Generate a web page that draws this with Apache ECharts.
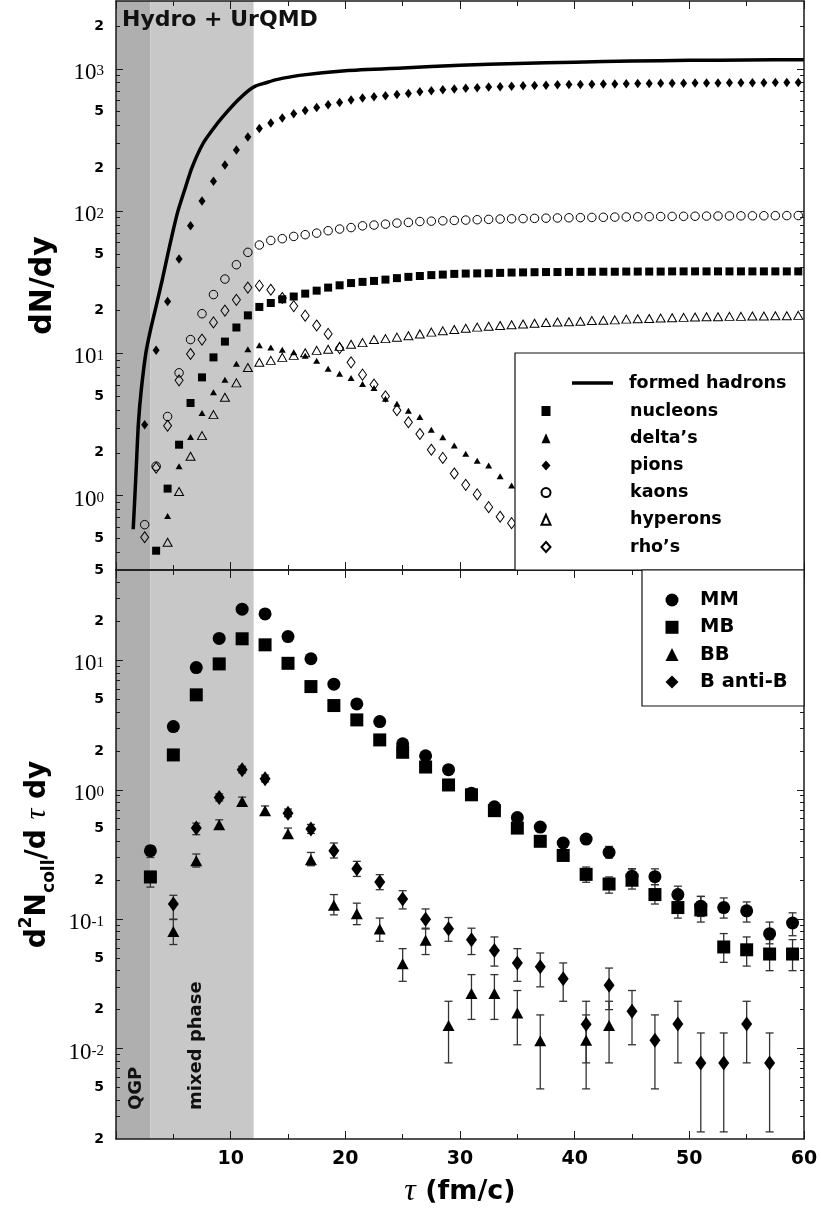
<!DOCTYPE html>
<html><head><meta charset="utf-8">
<script src="https://cdn.jsdelivr.net/npm/echarts@6/dist/echarts.min.js"></script>
<style>html,body{margin:0;padding:0;background:#fff}#c{width:821px;height:1215px}</style>
</head><body><div id="c"></div>
<script>
// ---------- top panel: dN/dy vs tau ----------
const tauTop = [2.5,3.5,4.5,5.5,6.5,7.5,8.5,9.5,10.5,11.5,12.5,13.5,14.5,15.5,16.5,17.5,18.5,19.5,20.5,21.5,22.5,23.5,24.5,25.5,26.5,27.5,28.5,29.5,30.5,31.5,32.5,33.5,34.5,35.5,36.5,37.5,38.5,39.5,40.5,41.5,42.5,43.5,44.5,45.5,46.5,47.5,48.5,49.5,50.5,51.5,52.5,53.5,54.5,55.5,56.5,57.5,58.5,59.5];
const tauLine = [1.5,1.65,1.8,1.95,2.2,2.6,3.0,3.5,4.0,4.5,5.0,5.4,6.0,6.6,7.6,8.7,9.7,10.6,11.6,12.2,13,14,16,20,25,30,35,40,45,50,55,60];
const formedHadrons = [0.58,1.0,1.8,3.2,5.5,10,14.5,21.5,32,49,74,100,142,200,300,400,500,600,710,760,795,840,900,970,1015,1060,1090,1115,1135,1148,1155,1160];
const nucleons = [null,0.41,1.12,2.28,4.48,6.78,9.37,12.1,15.2,18.5,21.2,22.6,24.0,25.1,26.3,27.6,29.0,30.1,31.2,31.8,32.3,33.0,33.8,34.5,35.0,35.5,35.8,36.2,36.4,36.5,36.6,36.8,37.0,37.1,37.2,37.3,37.3,37.4,37.4,37.5,37.5,37.5,37.6,37.6,37.6,37.6,37.7,37.7,37.7,37.7,37.7,37.7,37.7,37.7,37.7,37.7,37.7,37.7];
const deltas = [null,null,0.72,1.61,2.58,3.81,5.33,6.53,8.47,10.7,11.4,11.0,10.6,10.2,9.64,8.89,7.8,7.2,6.7,6.1,5.7,4.8,4.43,3.95,3.57,2.91,2.57,2.25,1.97,1.76,1.63,1.37,1.18];
const pions = [3.15,10.5,23.2,46,79,118,162,211,269,332,381,416,451,483,510,535,560,580,605,625,636,647,661,670,690,702,713,722,730,738,745,749,754,760,764,768,772,775,778,780,782,784,786,788,789,791,792,793,795,796,797,798,799,800,800,801,802,802];
const kaons = [0.625,1.61,3.6,7.3,12.5,19,25.9,33.3,42,51.3,57.8,62.2,64,66.4,68.3,70,72.8,74.8,76.6,78.8,79.8,81,82.4,83.3,84.5,85,85.5,86,86.5,87,87.5,88,88.3,88.6,88.9,89.2,89.5,89.8,90,90.3,90.5,90.8,91,91.2,91.4,91.6,91.8,92,92.1,92.3,92.4,92.5,92.6,92.7,92.8,92.9,93,93.1];
const hyperons = [null,null,0.47,1.07,1.89,2.64,3.71,4.91,6.2,7.95,8.65,8.93,9.37,9.68,10.1,10.5,10.7,11.2,11.6,11.9,12.5,12.7,13.0,13.3,13.7,14.1,14.4,14.7,15.0,15.3,15.5,15.7,15.9,16.1,16.3,16.5,16.6,16.7,16.8,17.0,17.1,17.2,17.4,17.5,17.6,17.7,17.8,17.9,18.0,18.1,18.1,18.2,18.2,18.3,18.3,18.4,18.4,18.5];
const rhos = [0.51,1.57,3.1,6.46,9.9,12.5,16.5,20,23.8,29,29.9,28.0,24.5,21.5,18.4,15.7,13.7,10.9,8.65,7.08,6.03,4.99,3.98,3.28,2.71,2.1,1.84,1.43,1.19,1.02,0.83,0.71,0.64];

// ---------- bottom panel: collision rates ----------
const tauBot = [3,5,7,9,11,13,15,17,19,21,23,25,27,29,31,33,35,37,39,41,43,45,47,49,51,53,55,57,59];
const mm   = [0.338,3.08,8.8,14.8,24.9,22.9,15.3,10.3,6.55,4.61,3.37,2.27,1.83,1.43,0.94,0.74,0.61,0.515,0.388,0.416,0.328,0.215,0.213,0.155,0.126,0.123,0.116,0.0773,0.0934];
const mmLo = [0.30,2.9,8.4,14.2,24,22,14.7,9.9,6.25,4.4,3.2,2.15,1.72,1.34,0.88,0.69,0.57,0.48,0.36,0.39,0.297,0.19,0.185,0.133,0.105,0.102,0.095,0.0645,0.0745];
const mmHi = [0.37,3.25,9.2,15.4,25.8,23.8,15.9,10.7,6.85,4.82,3.54,2.39,1.94,1.52,1.0,0.79,0.65,0.55,0.42,0.445,0.365,0.245,0.245,0.18,0.15,0.146,0.136,0.095,0.112];
const mb   = [0.212,1.86,5.42,9.4,14.7,13.2,9.5,6.28,4.48,3.47,2.43,1.95,1.5,1.09,0.915,0.69,0.506,0.4,0.311,0.222,0.187,0.2,0.155,0.123,0.118,0.061,0.058,0.0538,0.0538];
const mbLo = [0.177,1.75,5.15,9.0,14.2,12.7,9.1,6.0,4.25,3.3,2.3,1.84,1.41,1.02,0.855,0.64,0.47,0.37,0.285,0.193,0.159,0.171,0.131,0.102,0.095,0.0464,0.0434,0.04,0.04];
const mbHi = [0.234,1.97,5.7,9.8,15.2,13.7,9.9,6.55,4.7,3.65,2.56,2.06,1.59,1.16,0.975,0.74,0.545,0.43,0.34,0.253,0.212,0.245,0.185,0.15,0.15,0.0774,0.0729,0.0695,0.0695];
const bb   = [null,0.0805,0.283,0.537,0.812,0.69,0.457,0.288,0.128,0.11,0.084,0.0453,0.0686,0.0151,0.0266,0.0266,0.0188,0.0115,null,0.0116,0.0151];
const bbLo = [null,0.0637,0.253,0.497,0.75,0.64,0.423,0.259,0.108,0.0907,0.0675,0.0331,0.0533,0.00775,0.0168,0.0168,0.0107,0.00488,null,0.00488,0.00775];
const bbHi = [null,0.1,0.319,0.586,0.878,0.75,0.506,0.328,0.155,0.133,0.102,0.0592,0.0852,0.0232,0.0373,0.0373,0.0281,0.0182,null,0.0182,0.0232];
const bab   = [null,0.131,0.506,0.873,1.43,1.22,0.66,0.497,0.338,0.245,0.194,0.143,0.1,0.0845,0.0695,0.0574,0.0459,0.0428,0.0347,0.0154,0.0308,0.0194,0.0116,0.0155,0.00775,0.00775,0.0155,0.00775];
const babLo = [null,0.0994,0.45,0.82,1.35,1.15,0.62,0.46,0.297,0.214,0.169,0.12,0.084,0.0675,0.0533,0.0434,0.0331,0.030,0.0232,0.00775,0.020,0.0107,0.00488,0.00775,0.00227,0.00227,0.00775,0.00227];
const babHi = [null,0.153,0.553,0.93,1.52,1.3,0.71,0.54,0.388,0.28,0.221,0.166,0.12,0.103,0.0852,0.0729,0.0592,0.0548,0.0459,0.0232,0.0419,0.0281,0.0182,0.0232,0.0132,0.0132,0.0232,0.0132];

// ---------- tick values ----------
const xTickLabels = [10,20,30,40,50,60];
const topMajor = [1,10,100,1000];
const topMinor = [0.4,0.5,0.6,0.7,0.8,0.9,2,3,4,5,6,7,8,9,20,30,40,50,60,70,80,90,200,300,400,500,600,700,800,900,2000];
const topLabels = [0.5,1,2,5,10,20,50,100,200,500,1000,2000];
const botMajor = [0.01,0.1,1,10];
const botMinor = [0.003,0.004,0.005,0.006,0.007,0.008,0.009,0.02,0.03,0.04,0.05,0.06,0.07,0.08,0.09,0.2,0.3,0.4,0.5,0.6,0.7,0.8,0.9,2,3,4,5,6,7,8,9,20,30,40];
const botLabels = [0.002,0.005,0.01,0.02,0.05,0.1,0.2,0.5,1,2,5,10,20,50];

const TOP_MIN = 0.3, TOP_MAX = 3000, BOT_MIN = 0.002, BOT_MAX = 50;

function pair(xs, ys) { const o = []; ys.forEach((y, i) => { if (y != null) o.push([xs[i], y]); }); return o; }
function triple(xs, lo, hi) { const o = []; lo.forEach((l, i) => { if (l != null) o.push([xs[i], l, hi[i]]); }); return o; }
function inside(arr, lo, hi) { return arr.map(v => Math.min(Math.max(v, lo * (1 + 1e-9)), hi * (1 - 1e-9))); }

function fmtLog(v) {
  const e = Math.floor(Math.log10(v) + 1e-6);
  const m = Math.round(v / Math.pow(10, e));
  if (m === 1) return '{ten|10}{sup|' + e + '}';
  return '{d|' + m + '}';
}
const labelRich = {
  ten: { fontFamily: 'Liberation Serif', fontSize: 23, color: '#000', lineHeight: 26, padding: [8, 0, 0, 0] },
  sup: { fontFamily: 'Liberation Serif', fontSize: 15, color: '#000', lineHeight: 14, verticalAlign: 'top', padding: [8, 0, 0, 0] },
  d: { fontFamily: 'DejaVu Sans', fontWeight: 'bold', fontSize: 14, color: '#000' }
};
const AX = '#1a1a1a';

function yAxes(grid, min, max, major, minor, labels, name, nameStyle) {
  const base = { type: 'log', logBase: 10, gridIndex: grid, min: min, max: max, splitLine: { show: false }, z: 5 };
  return [
    Object.assign({}, base, {
      position: 'left',
      axisLine: { show: true, lineStyle: { color: AX, width: 1.5 } },
      axisTick: { show: true, inside: true, length: 7, lineStyle: { color: AX, width: 1 }, customValues: inside(major, min, max) },
      axisLabel: { show: true, margin: 12, customValues: inside(labels, min, max), formatter: fmtLog, rich: labelRich },
      name: name, nameLocation: 'middle', nameGap: 58, nameRotate: 90, nameTextStyle: nameStyle
    }),
    Object.assign({}, base, {
      position: 'left', axisLine: { show: false }, axisLabel: { show: false },
      axisTick: { show: true, inside: true, length: 4, lineStyle: { color: AX, width: 1 }, customValues: inside(minor, min, max) }
    }),
    Object.assign({}, base, {
      position: 'right', axisLine: { show: true, lineStyle: { color: AX, width: 1.5 } }, axisLabel: { show: false },
      axisTick: { show: true, inside: true, length: 7, lineStyle: { color: AX, width: 1 }, customValues: inside(major, min, max) }
    }),
    Object.assign({}, base, {
      position: 'right', axisLine: { show: false }, axisLabel: { show: false },
      axisTick: { show: true, inside: true, length: 4, lineStyle: { color: AX, width: 1 }, customValues: inside(minor, min, max) }
    })
  ];
}

function xAxis(grid, pos, labels, name) {
  const a = {
    type: 'value', gridIndex: grid, position: pos, min: 0, max: 60, interval: 10, z: 5,
    splitLine: { show: false }, minorSplitLine: { show: false },
    axisLine: { show: true, onZero: false, lineStyle: { color: AX, width: 1.5 } },
    axisTick: { show: true, inside: true, length: 8, lineStyle: { color: AX, width: 1 } },
    minorTick: { show: true, splitNumber: 2, length: 5, lineStyle: { color: AX, width: 1 } },
    axisLabel: { show: labels, margin: 11, fontFamily: 'DejaVu Sans', fontWeight: 'bold', fontSize: 19, color: '#000',
      formatter: v => (xTickLabels.indexOf(v) >= 0 ? String(v) : '') }
  };
  if (name) {
    a.name = '{tau|τ}{n| (fm/c)}';
    a.nameLocation = 'middle';
    a.nameGap = 37;
    a.nameTextStyle = { rich: {
      tau: { fontFamily: 'Liberation Serif', fontStyle: 'italic', fontSize: 32, color: '#000' },
      n: { fontFamily: 'DejaVu Sans', fontWeight: 'bold', fontSize: 27, color: '#000' } } };
  }
  return a;
}

function errRender(params, api) {
  const x = api.value(0), lo = api.value(1), hi = api.value(2);
  const a = api.coord([x, hi]), b = api.coord([x, lo]);
  const w = 4;
  const st = { stroke: '#333', lineWidth: 1.3, fill: null };
  return { type: 'group', children: [
    { type: 'line', shape: { x1: a[0], y1: a[1], x2: b[0], y2: b[1] }, style: st },
    { type: 'line', shape: { x1: a[0] - w, y1: a[1], x2: a[0] + w, y2: a[1] }, style: st },
    { type: 'line', shape: { x1: b[0] - w, y1: b[1], x2: b[0] + w, y2: b[1] }, style: st }
  ] };
}
function errSeries(name, xs, lo, hi) {
  return { type: 'custom', name: name, xAxisIndex: 2, yAxisIndex: 4, z: 2, silent: true,
    renderItem: errRender, encode: { x: 0, y: [1, 2] }, data: triple(xs, lo, hi) };
}

const shade = {
  silent: true,
  data: [
    [{ xAxis: 0, itemStyle: { color: '#afafaf' } }, { xAxis: 3 }],
    [{ xAxis: 3, itemStyle: { color: '#c8c8c8' } }, { xAxis: 12 }]
  ]
};

const filled = { color: '#000', opacity: 1 };
const open = { color: 'rgba(0,0,0,0)', borderColor: '#000', borderWidth: 1, opacity: 1 };
const legText = (fs, lh, padL) => ({ fontFamily: 'DejaVu Sans', fontWeight: 'bold', fontSize: fs, lineHeight: lh, color: '#000', padding: [0, 0, 0, padL] });

const option = {
  animation: false,
  backgroundColor: '#fff',
  title: { text: 'Hydro + UrQMD', left: 122, top: 9, padding: 0,
    textStyle: { fontFamily: 'DejaVu Sans', fontWeight: 'bold', fontSize: 22, color: '#111' } },
  grid: [
    { left: 116, top: 1, width: 688, height: 569 },
    { left: 116, top: 570, width: 688, height: 569 }
  ],
  xAxis: [ xAxis(0, 'bottom', false), xAxis(0, 'top', false), xAxis(1, 'bottom', true, true), xAxis(1, 'top', false) ],
  yAxis: [].concat(
    yAxes(0, TOP_MIN, TOP_MAX, topMajor, topMinor, topLabels, 'dN/dy',
      { fontFamily: 'DejaVu Sans', fontWeight: 'bold', fontSize: 30, color: '#000' }),
    yAxes(1, BOT_MIN, BOT_MAX, botMajor, botMinor, botLabels, '{n|d}{sup|2}{n|N}{sub|coll}{n|/d }{tau|τ}{n| dy}',
      { rich: {
        n: { fontFamily: 'DejaVu Sans', fontWeight: 'bold', fontSize: 28, color: '#000', lineHeight: 40 },
        sup: { fontFamily: 'DejaVu Sans', fontWeight: 'bold', fontSize: 17, color: '#000', lineHeight: 22, verticalAlign: 'top' },
        sub: { fontFamily: 'DejaVu Sans', fontWeight: 'bold', fontSize: 17, color: '#000', lineHeight: 22, verticalAlign: 'bottom' },
        tau: { fontFamily: 'Liberation Serif', fontStyle: 'italic', fontSize: 30, color: '#000', lineHeight: 40 } } })
  ),
  legend: [
    { data: [{ name: 'formed hadrons', icon: 'path://M0,0H82V7H0Z' }], left: 572, top: 373, orient: 'vertical', padding: 0,
      itemWidth: 41, itemHeight: 14, itemGap: 0, selectedMode: false, z: 60, textStyle: legText(17.5, 20, 11) },
    { data: ['nucleons', 'delta’s', 'pions', 'kaons', 'hyperons', 'rho’s'], left: 540.5, top: 401, orient: 'vertical', padding: 0,
      itemWidth: 9, itemHeight: 10, itemGap: 7.2, selectedMode: false, z: 60, textStyle: legText(17.5, 20, 74.5) },
    { data: ['MM', 'MB', 'BB', 'B anti-B'], left: 665.5, top: 589, orient: 'vertical', padding: 0,
      itemWidth: 13, itemHeight: 13, itemGap: 5.3, selectedMode: false, z: 60, textStyle: legText(19.5, 22, 16.5) }
  ],
  graphic: { elements: [
    { type: 'rect', z: 50, shape: { x: 515, y: 353, width: 289, height: 217 }, style: { fill: '#fff', stroke: '#111', lineWidth: 1.2 } },
    { type: 'rect', z: 50, shape: { x: 642, y: 570, width: 162, height: 136 }, style: { fill: '#fff', stroke: '#111', lineWidth: 1.2 } },
    { type: 'text', z: 20, x: 136, y: 1110, rotation: Math.PI / 2,
      style: { text: 'QGP', font: 'bold 18px "DejaVu Sans"', fill: '#111', align: 'left', verticalAlign: 'middle', textAlign: 'left', textVerticalAlign: 'middle' } },
    { type: 'text', z: 20, x: 196, y: 1110, rotation: Math.PI / 2,
      style: { text: 'mixed phase', font: 'bold 18px "DejaVu Sans"', fill: '#111', align: 'left', verticalAlign: 'middle', textAlign: 'left', textVerticalAlign: 'middle' } }
  ] },
  series: [
    { name: 'formed hadrons', type: 'line', xAxisIndex: 0, yAxisIndex: 0, z: 3, symbol: 'none', smooth: 0.2,
      lineStyle: { color: '#000', width: 3.5 }, itemStyle: { color: '#000', opacity: 1 }, data: pair(tauLine, formedHadrons) },
    { name: 'nucleons', type: 'scatter', xAxisIndex: 0, yAxisIndex: 0, z: 3, symbol: 'rect', symbolSize: 8,
      itemStyle: filled, data: pair(tauTop, nucleons), markArea: shade },
    { name: 'delta’s', type: 'scatter', xAxisIndex: 0, yAxisIndex: 0, z: 3, symbol: 'triangle', symbolSize: [7, 6],
      itemStyle: filled, data: pair(tauTop, deltas) },
    { name: 'pions', type: 'scatter', xAxisIndex: 0, yAxisIndex: 0, z: 3, symbol: 'diamond', symbolSize: [7, 9.5],
      itemStyle: filled, data: pair(tauTop, pions) },
    { name: 'kaons', type: 'scatter', xAxisIndex: 0, yAxisIndex: 0, z: 3, symbol: 'circle', symbolSize: 8.5,
      itemStyle: open, data: pair(tauTop, kaons) },
    { name: 'hyperons', type: 'scatter', xAxisIndex: 0, yAxisIndex: 0, z: 3, symbol: 'triangle', symbolSize: [9, 8],
      itemStyle: open, data: pair(tauTop, hyperons) },
    { name: 'rho’s', type: 'scatter', xAxisIndex: 0, yAxisIndex: 0, z: 3, symbol: 'diamond', symbolSize: [8, 11],
      itemStyle: open, data: pair(tauTop, rhos) },

    errSeries('MM err', tauBot, mmLo, mmHi),
    errSeries('MB err', tauBot, mbLo, mbHi),
    errSeries('BB err', tauBot, bbLo, bbHi),
    errSeries('BaB err', tauBot, babLo, babHi),
    { name: 'MM', type: 'scatter', xAxisIndex: 2, yAxisIndex: 4, z: 3, symbol: 'circle', symbolSize: 13,
      itemStyle: filled, data: pair(tauBot, mm), markArea: shade },
    { name: 'MB', type: 'scatter', xAxisIndex: 2, yAxisIndex: 4, z: 3, symbol: 'rect', symbolSize: 13,
      itemStyle: filled, data: pair(tauBot, mb) },
    { name: 'BB', type: 'scatter', xAxisIndex: 2, yAxisIndex: 4, z: 3, symbol: 'triangle', symbolSize: [12, 11],
      itemStyle: filled, data: pair(tauBot, bb) },
    { name: 'B anti-B', type: 'scatter', xAxisIndex: 2, yAxisIndex: 4, z: 3, symbol: 'diamond', symbolSize: [11, 15],
      itemStyle: filled, data: pair(tauBot, bab) }
  ]
};

const chart = echarts.init(document.getElementById('c'), null, { renderer: 'canvas' });
chart.setOption(option);
</script>
</body></html>
